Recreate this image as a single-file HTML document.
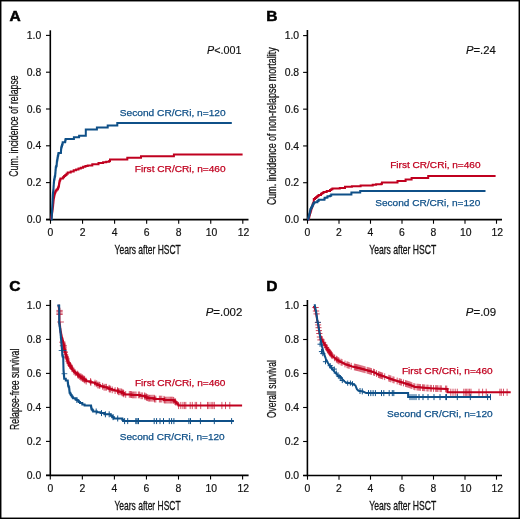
<!DOCTYPE html><html><head><meta charset="utf-8"><style>html,body{margin:0;padding:0;background:#fff;}svg{display:block;will-change:transform;} .t{font-family:"Liberation Sans", sans-serif;font-size:10.4px;fill:#111;stroke:#111;stroke-width:0.18px;}.c{font-family:"Liberation Sans", sans-serif;font-size:13px;fill:#111;stroke:#111;stroke-width:0.3px;}.cy{font-family:"Liberation Sans", sans-serif;font-size:12.7px;fill:#111;stroke:#111;stroke-width:0.25px;}.p{font-family:"Liberation Sans", sans-serif;font-size:10.4px;fill:#111;stroke:#111;stroke-width:0.15px;}.L{font-family:"Liberation Sans", sans-serif;font-size:15.5px;font-weight:bold;fill:#000;stroke:#000;stroke-width:0.55px;}.lb{font-family:"Liberation Sans", sans-serif;font-size:9.8px;stroke-width:0.25px;}</style></head><body>
<svg width="520" height="519" viewBox="0 0 520 519">
<rect x="0" y="0" width="520" height="519" fill="#fff"/>
<text x="9.4" y="20.8" class="L">A</text>
<text x="266.3" y="20.8" class="L">B</text>
<text x="9.2" y="290.7" class="L">C</text>
<text x="266.3" y="290.5" class="L">D</text>
<line x1="50.3" y1="30.3" x2="50.3" y2="220.25" stroke="#000" stroke-width="1.6"/>
<line x1="46.0" y1="219.55" x2="248.5" y2="219.55" stroke="#000" stroke-width="1.7"/>
<line x1="46.0" y1="219.40" x2="50.3" y2="219.40" stroke="#000" stroke-width="1.1"/>
<text x="41.3" y="223.00" text-anchor="end" class="t">0.0</text>
<line x1="46.0" y1="182.60" x2="50.3" y2="182.60" stroke="#000" stroke-width="1.1"/>
<text x="41.3" y="186.20" text-anchor="end" class="t">0.2</text>
<line x1="46.0" y1="145.80" x2="50.3" y2="145.80" stroke="#000" stroke-width="1.1"/>
<text x="41.3" y="149.40" text-anchor="end" class="t">0.4</text>
<line x1="46.0" y1="109.00" x2="50.3" y2="109.00" stroke="#000" stroke-width="1.1"/>
<text x="41.3" y="112.60" text-anchor="end" class="t">0.6</text>
<line x1="46.0" y1="72.20" x2="50.3" y2="72.20" stroke="#000" stroke-width="1.1"/>
<text x="41.3" y="75.80" text-anchor="end" class="t">0.8</text>
<line x1="46.0" y1="35.40" x2="50.3" y2="35.40" stroke="#000" stroke-width="1.1"/>
<text x="41.3" y="39.00" text-anchor="end" class="t">1.0</text>
<line x1="50.50" y1="219.55" x2="50.50" y2="223.75" stroke="#000" stroke-width="1.1"/>
<text x="50.50" y="235.8" text-anchor="middle" class="t">0</text>
<line x1="82.55" y1="219.55" x2="82.55" y2="223.75" stroke="#000" stroke-width="1.1"/>
<text x="82.55" y="235.8" text-anchor="middle" class="t">2</text>
<line x1="114.60" y1="219.55" x2="114.60" y2="223.75" stroke="#000" stroke-width="1.1"/>
<text x="114.60" y="235.8" text-anchor="middle" class="t">4</text>
<line x1="146.65" y1="219.55" x2="146.65" y2="223.75" stroke="#000" stroke-width="1.1"/>
<text x="146.65" y="235.8" text-anchor="middle" class="t">6</text>
<line x1="178.70" y1="219.55" x2="178.70" y2="223.75" stroke="#000" stroke-width="1.1"/>
<text x="178.70" y="235.8" text-anchor="middle" class="t">8</text>
<line x1="210.75" y1="219.55" x2="210.75" y2="223.75" stroke="#000" stroke-width="1.1"/>
<text x="211.45" y="235.8" text-anchor="middle" class="t">10</text>
<line x1="242.80" y1="219.55" x2="242.80" y2="223.75" stroke="#000" stroke-width="1.1"/>
<text x="243.50" y="235.8" text-anchor="middle" class="t">12</text>
<text x="114.6" y="253.9" class="c" textLength="66.2" lengthAdjust="spacingAndGlyphs">Years after HSCT</text>
<text transform="translate(18.3,176.8) rotate(-90)" x="0" y="0" class="cy" textLength="101.5" lengthAdjust="spacingAndGlyphs">Cum. incidence of relapse</text>
<text x="207.0" y="53.8" class="p" textLength="34.4" lengthAdjust="spacingAndGlyphs"><tspan font-style="italic">P</tspan>&lt;.001</text>
<polyline points="51.00,219.40 51.00,218.50 51.20,218.50 51.20,217.32 51.40,217.32 51.40,216.13 51.60,216.13 51.60,214.95 51.80,214.95 51.80,213.77 52.00,213.77 52.00,212.58 52.20,212.58 52.20,211.40 52.36,211.40 52.36,210.20 52.52,210.20 52.52,209.00 52.68,209.00 52.68,207.80 52.84,207.80 52.84,206.60 53.00,206.60 53.00,205.40 53.12,205.40 53.12,204.20 53.23,204.20 53.23,203.00 53.35,203.00 53.35,201.80 53.47,201.80 53.47,200.60 53.58,200.60 53.58,199.40 53.70,199.40 53.70,198.20 53.93,198.20 53.93,197.02 54.15,197.02 54.15,195.85 54.38,195.85 54.38,194.68 54.60,194.68 54.60,193.50 55.00,193.50 55.00,192.50 55.40,192.50 55.40,191.50 55.80,191.50 55.80,190.50 56.70,190.50 56.70,189.60 57.60,189.60 57.60,188.70 58.00,188.70 58.00,187.70 58.40,187.70 58.40,186.70 58.80,186.70 58.80,185.70 59.00,185.70 59.00,184.30 59.20,184.30 59.20,182.90 59.40,182.90 59.40,181.50 59.77,181.50 59.77,180.50 60.13,180.50 60.13,179.50 60.50,179.50 60.50,178.50 62.90,178.50 62.90,177.30 64.10,177.30 64.10,176.10 65.30,176.10 65.30,174.90 66.50,174.90 66.50,173.70 67.70,173.70 67.70,172.50 70.70,172.50 70.70,171.40 73.70,171.40 73.70,170.20 76.10,170.20 76.10,169.40 78.50,169.40 78.50,168.60 80.80,168.60 80.80,167.70 83.10,167.70 83.10,166.80 85.40,166.80 85.40,166.10 87.70,166.10 87.70,165.40 92.30,165.40 92.30,164.30 98.50,164.30 98.50,163.10 103.10,163.10 103.10,162.30 106.20,162.30 106.20,161.70 109.20,161.70 109.20,161.10 110.00,161.10 110.00,159.50 127.30,159.50 127.30,157.70 141.00,157.70 141.00,156.20 173.90,156.20 173.90,154.60 242.60,154.60" fill="none" stroke="#c0001f" stroke-width="2.0" stroke-linejoin="miter" stroke-linecap="butt"/>
<polyline points="51.00,219.40 51.60,219.40 51.60,218.50 51.69,218.50 51.69,216.97 51.77,216.97 51.77,215.44 51.86,215.44 51.86,213.91 51.94,213.91 51.94,212.39 52.03,212.39 52.03,210.86 52.11,210.86 52.11,209.33 52.20,209.33 52.20,207.80 52.27,207.80 52.27,206.33 52.33,206.33 52.33,204.87 52.40,204.87 52.40,203.40 52.47,203.40 52.47,201.93 52.53,201.93 52.53,200.47 52.60,200.47 52.60,199.00 52.67,199.00 52.67,197.53 52.73,197.53 52.73,196.07 52.80,196.07 52.80,194.60 52.95,194.60 52.95,193.12 53.10,193.12 53.10,191.65 53.25,191.65 53.25,190.17 53.40,190.17 53.40,188.70 53.50,188.70 53.50,187.30 53.60,187.30 53.60,185.90 53.70,185.90 53.70,184.50 53.80,184.50 53.80,183.10 53.90,183.10 53.90,181.70 54.00,181.70 54.00,180.30 54.30,180.30 54.30,178.80 54.60,178.80 54.60,177.30 54.90,177.30 54.90,175.80 55.20,175.80 55.20,174.30 55.32,174.30 55.32,172.88 55.44,172.88 55.44,171.46 55.56,171.46 55.56,170.04 55.68,170.04 55.68,168.62 55.80,168.62 55.80,167.20 56.20,167.20 56.20,166.10 56.60,166.10 56.60,165.00 56.70,165.00 56.70,163.73 56.80,163.73 56.80,162.47 56.90,162.47 56.90,161.20 57.17,161.20 57.17,159.67 57.43,159.67 57.43,158.13 57.70,158.13 57.70,156.60 57.97,156.60 57.97,155.43 58.23,155.43 58.23,154.27 58.50,154.27 58.50,153.10 60.80,153.10 60.90,153.10 60.90,151.68 61.00,151.68 61.00,150.25 61.10,150.25 61.10,148.82 61.20,148.82 61.20,147.40 61.60,147.40 61.60,146.20 62.00,146.20 62.00,145.00 62.35,145.00 62.35,143.65 62.70,143.65 62.70,142.30 65.00,142.30 65.00,142.00 65.20,142.00 65.20,140.80 65.40,140.80 65.40,139.60 65.80,139.60 65.80,139.00 73.90,139.00 73.90,137.30 79.10,137.30 79.10,135.80 85.80,135.80 85.80,129.60 96.90,129.60 96.90,127.50 107.70,127.50 107.70,125.40 117.30,125.40 117.30,122.90 231.80,122.90" fill="none" stroke="#0f5088" stroke-width="2.0" stroke-linejoin="miter" stroke-linecap="butt"/>
<text x="119.8" y="115.6" class="lb" fill="#0f5088" stroke="#0f5088" textLength="105.8" lengthAdjust="spacingAndGlyphs">Second CR/CRi, n=120</text>
<text x="134.8" y="171.5" class="lb" fill="#c0001f" stroke="#c0001f" textLength="90.8" lengthAdjust="spacingAndGlyphs">First CR/CRi, n=460</text>
<line x1="307.4" y1="30.0" x2="307.4" y2="220.25" stroke="#000" stroke-width="1.6"/>
<line x1="303.1" y1="219.55" x2="502.0" y2="219.55" stroke="#000" stroke-width="1.7"/>
<line x1="303.1" y1="219.50" x2="307.4" y2="219.50" stroke="#000" stroke-width="1.1"/>
<text x="299.1" y="223.10" text-anchor="end" class="t">0.0</text>
<line x1="303.1" y1="182.72" x2="307.4" y2="182.72" stroke="#000" stroke-width="1.1"/>
<text x="299.1" y="186.32" text-anchor="end" class="t">0.2</text>
<line x1="303.1" y1="145.94" x2="307.4" y2="145.94" stroke="#000" stroke-width="1.1"/>
<text x="299.1" y="149.54" text-anchor="end" class="t">0.4</text>
<line x1="303.1" y1="109.16" x2="307.4" y2="109.16" stroke="#000" stroke-width="1.1"/>
<text x="299.1" y="112.76" text-anchor="end" class="t">0.6</text>
<line x1="303.1" y1="72.38" x2="307.4" y2="72.38" stroke="#000" stroke-width="1.1"/>
<text x="299.1" y="75.98" text-anchor="end" class="t">0.8</text>
<line x1="303.1" y1="35.60" x2="307.4" y2="35.60" stroke="#000" stroke-width="1.1"/>
<text x="299.1" y="39.20" text-anchor="end" class="t">1.0</text>
<line x1="307.50" y1="219.55" x2="307.50" y2="223.75" stroke="#000" stroke-width="1.1"/>
<text x="307.50" y="235.8" text-anchor="middle" class="t">0</text>
<line x1="339.00" y1="219.55" x2="339.00" y2="223.75" stroke="#000" stroke-width="1.1"/>
<text x="339.00" y="235.8" text-anchor="middle" class="t">2</text>
<line x1="370.50" y1="219.55" x2="370.50" y2="223.75" stroke="#000" stroke-width="1.1"/>
<text x="370.50" y="235.8" text-anchor="middle" class="t">4</text>
<line x1="402.00" y1="219.55" x2="402.00" y2="223.75" stroke="#000" stroke-width="1.1"/>
<text x="402.00" y="235.8" text-anchor="middle" class="t">6</text>
<line x1="433.50" y1="219.55" x2="433.50" y2="223.75" stroke="#000" stroke-width="1.1"/>
<text x="433.50" y="235.8" text-anchor="middle" class="t">8</text>
<line x1="465.00" y1="219.55" x2="465.00" y2="223.75" stroke="#000" stroke-width="1.1"/>
<text x="465.70" y="235.8" text-anchor="middle" class="t">10</text>
<line x1="496.50" y1="219.55" x2="496.50" y2="223.75" stroke="#000" stroke-width="1.1"/>
<text x="497.20" y="235.8" text-anchor="middle" class="t">12</text>
<text x="369.2" y="253.6" class="c" textLength="67.1" lengthAdjust="spacingAndGlyphs">Years after HSCT</text>
<text transform="translate(275.6,205.1) rotate(-90)" x="0" y="0" class="cy" textLength="157.8" lengthAdjust="spacingAndGlyphs">Cum. incidence of non-relapse mortality</text>
<text x="466.0" y="53.7" class="p" textLength="29.8" lengthAdjust="spacingAndGlyphs"><tspan font-style="italic">P</tspan>=.24</text>
<polyline points="308.10,219.50 308.50,219.50 308.50,218.90 308.80,218.90 308.80,217.72 309.10,217.72 309.10,216.54 309.40,216.54 309.40,215.36 309.70,215.36 309.70,214.18 310.00,214.18 310.00,213.00 310.38,213.00 310.38,211.75 310.75,211.75 310.75,210.50 311.12,210.50 311.12,209.25 311.50,209.25 311.50,208.00 311.88,208.00 311.88,206.88 312.25,206.88 312.25,205.75 312.62,205.75 312.62,204.62 313.00,204.62 313.00,203.50 313.40,203.50 313.40,202.70 313.80,202.70 313.80,201.90 313.80,199.00 315.00,199.00 315.00,198.00 316.20,198.00 316.20,197.00 317.40,197.00 317.40,196.00 318.60,196.00 318.60,195.00 321.00,195.00 321.00,193.80 322.25,193.80 322.25,192.95 323.50,192.95 323.50,192.10 326.70,192.10 326.70,190.90 330.00,190.90 330.00,190.10 331.20,190.10 331.20,189.30 332.40,189.30 332.40,188.50 339.80,188.50 339.80,188.00 345.00,188.00 345.00,186.80 351.90,186.80 351.90,186.30 360.60,186.30 360.60,185.60 369.20,185.60 372.70,185.60 372.70,184.70 376.10,184.70 376.10,184.20 381.30,184.20 381.30,183.80 382.00,183.80 382.00,182.50 397.50,182.50 397.50,181.00 405.60,181.00 405.60,179.50 411.60,179.50 411.60,178.00 428.20,178.00 428.20,176.00 495.60,176.00" fill="none" stroke="#c0001f" stroke-width="2.0" stroke-linejoin="miter" stroke-linecap="butt"/>
<polyline points="307.80,219.50 308.10,219.50 308.10,218.90 308.40,218.90 308.40,217.68 308.70,217.68 308.70,216.45 309.00,216.45 309.00,215.22 309.30,215.22 309.30,214.00 309.60,214.00 309.60,212.78 309.90,212.78 309.90,211.55 310.20,211.55 310.20,210.32 310.50,210.32 310.50,209.10 311.03,209.10 311.03,208.03 311.57,208.03 311.57,206.97 312.10,206.97 312.10,205.90 312.67,205.90 312.67,204.83 313.23,204.83 313.23,203.77 313.80,203.77 313.80,202.70 314.60,202.70 314.60,202.30 317.00,202.30 317.40,202.30 317.40,201.00 318.60,201.00 318.60,199.80 324.30,199.80 324.30,199.40 324.50,199.40 324.50,198.60 324.70,198.60 324.70,197.80 326.70,197.80 326.70,197.40 327.50,197.40 327.50,196.20 330.00,196.20 330.00,195.80 331.20,195.80 331.20,194.60 351.40,194.60 351.40,192.60 360.20,192.60 360.20,190.90 485.50,190.90" fill="none" stroke="#0f5088" stroke-width="2.0" stroke-linejoin="miter" stroke-linecap="butt"/>
<text x="390.2" y="168.0" class="lb" fill="#c0001f" stroke="#c0001f" textLength="90.3" lengthAdjust="spacingAndGlyphs">First CR/CRi, n=460</text>
<text x="375.2" y="205.9" class="lb" fill="#0f5088" stroke="#0f5088" textLength="105.1" lengthAdjust="spacingAndGlyphs">Second CR/CRi, n=120</text>
<line x1="50.3" y1="300.0" x2="50.3" y2="476.09999999999997" stroke="#000" stroke-width="1.6"/>
<line x1="46.0" y1="475.4" x2="248.6" y2="475.4" stroke="#000" stroke-width="1.7"/>
<line x1="46.0" y1="475.40" x2="50.3" y2="475.40" stroke="#000" stroke-width="1.1"/>
<text x="41.3" y="479.00" text-anchor="end" class="t">0.0</text>
<line x1="46.0" y1="441.40" x2="50.3" y2="441.40" stroke="#000" stroke-width="1.1"/>
<text x="41.3" y="445.00" text-anchor="end" class="t">0.2</text>
<line x1="46.0" y1="407.40" x2="50.3" y2="407.40" stroke="#000" stroke-width="1.1"/>
<text x="41.3" y="411.00" text-anchor="end" class="t">0.4</text>
<line x1="46.0" y1="373.40" x2="50.3" y2="373.40" stroke="#000" stroke-width="1.1"/>
<text x="41.3" y="377.00" text-anchor="end" class="t">0.6</text>
<line x1="46.0" y1="339.40" x2="50.3" y2="339.40" stroke="#000" stroke-width="1.1"/>
<text x="41.3" y="343.00" text-anchor="end" class="t">0.8</text>
<line x1="46.0" y1="305.40" x2="50.3" y2="305.40" stroke="#000" stroke-width="1.1"/>
<text x="41.3" y="309.00" text-anchor="end" class="t">1.0</text>
<line x1="50.30" y1="475.4" x2="50.30" y2="479.59999999999997" stroke="#000" stroke-width="1.1"/>
<text x="50.30" y="491.6" text-anchor="middle" class="t">0</text>
<line x1="82.35" y1="475.4" x2="82.35" y2="479.59999999999997" stroke="#000" stroke-width="1.1"/>
<text x="82.35" y="491.6" text-anchor="middle" class="t">2</text>
<line x1="114.40" y1="475.4" x2="114.40" y2="479.59999999999997" stroke="#000" stroke-width="1.1"/>
<text x="114.40" y="491.6" text-anchor="middle" class="t">4</text>
<line x1="146.45" y1="475.4" x2="146.45" y2="479.59999999999997" stroke="#000" stroke-width="1.1"/>
<text x="146.45" y="491.6" text-anchor="middle" class="t">6</text>
<line x1="178.50" y1="475.4" x2="178.50" y2="479.59999999999997" stroke="#000" stroke-width="1.1"/>
<text x="178.50" y="491.6" text-anchor="middle" class="t">8</text>
<line x1="210.55" y1="475.4" x2="210.55" y2="479.59999999999997" stroke="#000" stroke-width="1.1"/>
<text x="211.25" y="491.6" text-anchor="middle" class="t">10</text>
<line x1="242.60" y1="475.4" x2="242.60" y2="479.59999999999997" stroke="#000" stroke-width="1.1"/>
<text x="243.30" y="491.6" text-anchor="middle" class="t">12</text>
<text x="114.5" y="510.2" class="c" textLength="66.1" lengthAdjust="spacingAndGlyphs">Years after HSCT</text>
<text transform="translate(18.5,429.9) rotate(-90)" x="0" y="0" class="cy" textLength="81.2" lengthAdjust="spacingAndGlyphs">Relapse-free survival</text>
<text x="205.7" y="316.0" class="p" textLength="36.6" lengthAdjust="spacingAndGlyphs"><tspan font-style="italic">P</tspan>=.002</text>
<polyline points="58.50,305.60 58.70,305.60 58.70,306.70 58.90,306.70 58.90,307.80 59.10,307.80 59.10,308.90 59.30,308.90 59.30,310.00 59.32,310.00 59.32,311.30 59.34,311.30 59.34,312.60 59.36,312.60 59.36,313.90 59.38,313.90 59.38,315.20 59.40,315.20 59.40,316.50 59.42,316.50 59.42,317.80 59.44,317.80 59.44,319.10 59.46,319.10 59.46,320.40 59.48,320.40 59.48,321.70 59.50,321.70 59.50,323.00 59.66,323.00 59.66,324.29 59.81,324.29 59.81,325.57 59.97,325.57 59.97,326.86 60.13,326.86 60.13,328.14 60.29,328.14 60.29,329.43 60.44,329.43 60.44,330.71 60.60,330.71 60.60,332.00 60.84,332.00 60.84,333.20 61.08,333.20 61.08,334.40 61.32,334.40 61.32,335.60 61.56,335.60 61.56,336.80 61.80,336.80 61.80,338.00 62.20,338.00 62.20,339.33 62.60,339.33 62.60,340.67 63.00,340.67 63.00,342.00 63.26,342.00 63.26,343.40 63.52,343.40 63.52,344.80 63.78,344.80 63.78,346.20 64.04,346.20 64.04,347.60 64.30,347.60 64.30,349.00 64.60,349.00 64.60,350.20 64.90,350.20 64.90,351.40 65.20,351.40 65.20,352.60 65.50,352.60 65.50,353.80 65.80,353.80 65.80,355.00 66.18,355.00 66.18,356.28 66.57,356.28 66.57,357.57 66.95,357.57 66.95,358.85 67.33,358.85 67.33,360.13 67.72,360.13 67.72,361.42 68.10,361.42 68.10,362.70 68.87,362.70 68.87,363.98 69.63,363.98 69.63,365.27 70.40,365.27 70.40,366.55 71.17,366.55 71.17,367.83 71.93,367.83 71.93,369.12 72.70,369.12 72.70,370.40 74.00,370.40 74.00,371.64 75.30,371.64 75.30,372.88 76.60,372.88 76.60,374.12 77.90,374.12 77.90,375.36 79.20,375.36 79.20,376.60 80.95,376.60 80.95,377.75 82.70,377.75 82.70,378.90 84.45,378.90 84.45,380.05 86.20,380.05 86.20,381.20 90.60,381.20 90.60,382.50 95.00,382.50 95.00,383.80 97.40,383.80 97.40,385.05 99.80,385.05 99.80,386.30 103.65,386.30 103.65,387.25 107.50,387.25 107.50,388.20 109.40,388.20 109.40,389.10 111.80,389.10 111.80,389.85 114.20,389.85 114.20,390.60 118.05,390.60 118.05,391.80 121.90,391.80 121.90,393.00 123.80,393.00 123.80,394.40 131.50,394.40 131.50,394.90 140.00,394.90 140.00,395.80 144.80,395.80 144.80,396.70 146.25,396.70 146.25,397.45 147.70,397.45 147.70,398.20 154.40,398.20 154.40,399.10 164.00,399.10 164.00,400.10 173.70,400.10 173.70,400.60 174.65,400.60 174.65,401.55 175.60,401.55 175.60,402.50 176.55,402.50 176.55,403.45 177.50,403.45 177.50,404.40 178.50,404.40 178.50,405.50 242.10,405.50" fill="none" stroke="#c0001f" stroke-width="2.0" stroke-linejoin="miter" stroke-linecap="butt"/>
<path d="M63.52 340.38V347.18M61.12 343.78H65.92 M63.70 341.40V348.20M61.30 344.80H66.10 M63.78 342.52V349.32M61.38 345.92H66.18 M64.04 343.46V350.26M61.64 346.86H66.44 M64.30 344.40V351.20M61.90 347.80H66.70 M64.30 345.60V352.40M61.90 349.00H66.70 M64.60 346.50V353.30M62.20 349.90H67.00 M65.20 348.30V355.10M62.80 351.70H67.60 M65.50 349.20V356.00M63.10 352.60H67.90 M65.80 351.30V358.10M63.40 354.70H68.20 M66.57 352.93V359.73M64.17 356.33H68.97 M66.57 354.13V360.93M64.17 357.53H68.97 M66.95 354.95V361.75M64.55 358.35H69.35 M67.33 355.77V362.57M64.93 359.17H69.73 M67.72 357.78V364.58M65.32 361.18H70.12 M68.60 359.30V366.10M66.20 362.70H71.00 M68.87 360.23V367.03M66.47 363.63H71.27 M69.63 361.87V368.67M67.23 365.27H72.03 M70.40 362.30V369.10M68.00 365.70H72.80 M70.75 363.15V369.95M68.35 366.55H73.15 M71.87 364.43V371.23M69.47 367.83H74.27 M74.06 368.24V375.04M71.66 371.64H76.46 M75.30 369.40V376.20M72.90 372.80H77.70 M77.58 370.72V377.52M75.18 374.12H79.98 M77.90 371.60V378.40M75.50 375.00H80.30 M78.74 371.96V378.76M76.34 375.36H81.14 M79.90 373.20V380.00M77.50 376.60H82.30 M80.95 373.35V380.15M78.55 376.75H83.35 M81.15 374.35V381.15M78.75 377.75H83.55 M82.35 374.35V381.15M79.95 377.75H84.75 M82.70 375.20V382.00M80.30 378.60H85.10 M83.60 375.50V382.30M81.20 378.90H86.00 M84.45 375.85V382.65M82.05 379.25H86.85 M84.85 376.65V383.45M82.45 380.05H87.25 M86.20 377.70V384.50M83.80 381.10H88.60 M90.60 378.10V384.90M88.20 381.50H93.00 M90.80 379.10V385.90M88.40 382.50H93.20 M95.00 379.70V386.50M92.60 383.10H97.40 M96.70 380.40V387.20M94.30 383.80H99.10 M97.85 381.65V388.45M95.45 385.05H100.25 M99.05 381.65V388.45M96.65 385.05H101.45 M99.80 382.10V388.90M97.40 385.50H102.20 M102.60 382.90V389.70M100.20 386.30H105.00 M104.05 383.85V390.65M101.65 387.25H106.45 M105.25 383.85V390.65M102.85 387.25H107.65 M106.45 383.85V390.65M104.05 387.25H108.85 M109.10 384.80V391.60M106.70 388.20H111.50 M109.40 385.70V392.50M107.00 389.10H111.80 M110.60 385.70V392.50M108.20 389.10H113.00 M112.25 386.45V393.25M109.85 389.85H114.65 M115.10 387.20V394.00M112.70 390.60H117.50 M117.50 387.20V394.00M115.10 390.60H119.90 M118.05 387.85V394.65M115.65 391.25H120.45 M118.70 388.40V395.20M116.30 391.80H121.10 M119.90 388.40V395.20M117.50 391.80H122.30 M121.10 388.40V395.20M118.70 391.80H123.50 M121.90 388.80V395.60M119.50 392.20H124.30 M122.30 389.60V396.40M119.90 393.00H124.70 M123.50 389.60V396.40M121.10 393.00H125.90 M123.80 390.50V397.30M121.40 393.90H126.20 M125.70 391.00V397.80M123.30 394.40H128.10 M129.30 391.00V397.80M126.90 394.40H131.70 M130.50 391.00V397.80M128.10 394.40H132.90 M131.50 391.20V398.00M129.10 394.60H133.90 M132.40 391.50V398.30M130.00 394.90H134.80 M133.60 391.50V398.30M131.20 394.90H136.00 M134.80 391.50V398.30M132.40 394.90H137.20 M136.00 391.50V398.30M133.60 394.90H138.40 M138.40 391.50V398.30M136.00 394.90H140.80 M139.60 391.50V398.30M137.20 394.90H142.00 M141.10 392.40V399.20M138.70 395.80H143.50 M142.30 392.40V399.20M139.90 395.80H144.70 M144.70 392.40V399.20M142.30 395.80H147.10 M145.00 393.30V400.10M142.60 396.70H147.40 M146.20 393.30V400.10M143.80 396.70H148.60 M146.65 394.05V400.85M144.25 397.45H149.05 M147.70 394.20V401.00M145.30 397.60H150.10 M148.30 394.80V401.60M145.90 398.20H150.70 M149.50 394.80V401.60M147.10 398.20H151.90 M150.70 394.80V401.60M148.30 398.20H153.10 M151.90 394.80V401.60M149.50 398.20H154.30 M153.10 394.80V401.60M150.70 398.20H155.50 M154.30 394.80V401.60M151.90 398.20H156.70 M154.60 395.70V402.50M152.20 399.10H157.00 M155.80 395.70V402.50M153.40 399.10H158.20 M159.40 395.70V402.50M157.00 399.10H161.80 M160.60 395.70V402.50M158.20 399.10H163.00 M161.80 395.70V402.50M159.40 399.10H164.20 M164.00 395.90V402.70M161.60 399.30H166.40 M164.40 396.70V403.50M162.00 400.10H166.80 M165.60 396.70V403.50M163.20 400.10H168.00 M166.80 396.70V403.50M164.40 400.10H169.20 M168.00 396.70V403.50M165.60 400.10H170.40 M169.20 396.70V403.50M166.80 400.10H171.60 M170.40 396.70V403.50M168.00 400.10H172.80 M171.60 396.70V403.50M169.20 400.10H174.00 M172.80 396.70V403.50M170.40 400.10H175.20 M173.70 397.00V403.80M171.30 400.40H176.10 M174.95 398.15V404.95M172.55 401.55H177.35 M175.60 398.70V405.50M173.20 402.10H178.00" stroke="#c0001f" stroke-width="0.85" fill="none" opacity="0.8"/>
<path d="M178.60 401.90V409.10M178.50 405.50H178.70 M180.80 401.90V409.10M180.70 405.50H180.90 M182.90 401.90V409.10M182.80 405.50H183.00 M184.40 401.90V409.10M184.30 405.50H184.50 M185.80 401.90V409.10M185.70 405.50H185.90 M190.20 401.90V409.10M190.10 405.50H190.30 M192.30 401.90V409.10M192.20 405.50H192.40 M195.20 401.90V409.10M195.10 405.50H195.30 M196.60 401.90V409.10M196.50 405.50H196.70 M200.70 401.90V409.10M200.60 405.50H200.80 M207.50 401.90V409.10M207.40 405.50H207.60 M208.90 401.90V409.10M208.80 405.50H209.00 M211.10 401.90V409.10M211.00 405.50H211.20 M212.80 401.90V409.10M212.70 405.50H212.90 M214.30 401.90V409.10M214.20 405.50H214.40 M221.90 401.90V409.10M221.80 405.50H222.00 M225.50 401.90V409.10M225.40 405.50H225.60 M229.80 401.90V409.10M229.70 405.50H229.90" stroke="#c0001f" stroke-width="0.85" fill="none" opacity="0.8"/>
<path d="M56.4 310.4H62.7M56.4 311.7H62.7M56.4 313.2H62.7M56.4 314.5H62.7M57.2 322H63.9M59.2 342.2H65.6M59.8 345.7H66.8" stroke="#c0001f" stroke-width="0.9" opacity="0.75"/>
<polyline points="57.30,305.40 59.20,305.40 59.20,305.60 59.20,323.00 59.40,323.00 59.40,324.50 59.60,324.50 59.60,326.00 59.80,326.00 59.80,327.50 60.00,327.50 60.00,329.00 60.20,329.00 60.20,330.50 60.40,330.50 60.40,332.00 60.53,332.00 60.53,333.56 60.67,333.56 60.67,335.11 60.80,335.11 60.80,336.67 60.93,336.67 60.93,338.22 61.07,338.22 61.07,339.78 61.20,339.78 61.20,341.33 61.33,341.33 61.33,342.89 61.47,342.89 61.47,344.44 61.60,344.44 61.60,346.00 61.73,346.00 61.73,347.25 61.85,347.25 61.85,348.50 61.98,348.50 61.98,349.75 62.10,349.75 62.10,351.00 62.17,351.00 62.17,352.50 62.23,352.50 62.23,354.00 62.30,354.00 62.30,355.50 62.75,355.50 62.75,356.65 63.20,356.65 63.20,357.80 63.24,357.80 63.24,359.38 63.28,359.38 63.28,360.95 63.31,360.95 63.31,362.52 63.35,362.52 63.35,364.10 63.39,364.10 63.39,365.68 63.42,365.68 63.42,367.25 63.46,367.25 63.46,368.82 63.50,368.82 63.50,370.40 63.62,370.40 63.62,371.80 63.73,371.80 63.73,373.20 63.85,373.20 63.85,374.60 63.97,374.60 63.97,376.00 64.08,376.00 64.08,377.40 64.20,377.40 64.20,378.80 65.80,378.80 65.80,380.40 67.70,380.40 67.70,381.50 67.83,381.50 67.83,382.93 67.97,382.93 67.97,384.37 68.10,384.37 68.10,385.80 68.65,385.80 68.65,387.35 69.20,387.35 69.20,388.90 69.33,388.90 69.33,390.17 69.47,390.17 69.47,391.43 69.60,391.43 69.60,392.70 70.20,392.70 70.20,393.85 70.80,393.85 70.80,395.00 71.60,395.00 71.60,396.20 72.35,396.20 72.35,397.25 73.10,397.25 73.10,398.30 75.40,398.30 75.40,399.20 76.55,399.20 76.55,400.00 77.70,400.00 77.70,400.80 78.85,400.80 78.85,401.95 80.00,401.95 80.00,403.10 82.30,403.10 82.30,404.60 84.60,404.60 84.60,405.40 90.80,405.40 91.03,405.40 91.03,406.67 91.27,406.67 91.27,407.93 91.50,407.93 91.50,409.20 92.30,409.20 92.30,410.35 93.10,410.35 93.10,411.50 96.90,411.50 96.90,412.30 100.80,412.30 100.80,413.10 104.60,413.10 104.60,414.30 110.80,414.30 110.80,415.80 112.30,415.80 112.30,417.15 113.80,417.15 113.80,418.50 121.50,418.50 122.30,418.50 122.30,419.80 123.10,419.80 123.10,421.10 233.90,421.10" fill="none" stroke="#0f5088" stroke-width="2.0" stroke-linejoin="miter" stroke-linecap="butt"/>
<path d="M76.90 397.00V403.00M74.90 400.00H78.90 M96.20 408.50V414.50M94.20 411.50H98.20 M101.50 410.10V416.10M99.50 413.10H103.50 M105.40 411.30V417.30M103.40 414.30H107.40 M109.20 411.30V417.30M107.20 414.30H111.20 M113.10 414.15V420.15M111.10 417.15H115.10 M117.70 415.50V421.50M115.70 418.50H119.70 M124.60 418.10V424.10M122.60 421.10H126.60 M127.70 418.10V424.10M125.70 421.10H129.70 M135.80 418.10V424.10M133.80 421.10H137.80 M136.90 418.10V424.10M134.90 421.10H138.90 M138.10 418.10V424.10M136.10 421.10H140.10 M138.50 418.10V424.10M136.50 421.10H140.50 M154.20 418.10V424.10M152.20 421.10H156.20 M156.60 418.10V424.10M154.60 421.10H158.60 M160.00 418.10V424.10M158.00 421.10H162.00 M163.50 418.10V424.10M161.50 421.10H165.50 M169.30 418.10V424.10M167.30 421.10H171.30 M171.60 418.10V424.10M169.60 421.10H173.60 M173.90 418.10V424.10M171.90 421.10H175.90 M188.90 418.10V424.10M186.90 421.10H190.90 M190.50 418.10V424.10M188.50 421.10H192.50 M200.40 418.10V424.10M198.40 421.10H202.40 M214.30 418.10V424.10M212.30 421.10H216.30 M231.60 418.10V424.10M229.60 421.10H233.60" stroke="#0f5088" stroke-width="1.0" fill="none" opacity="1.0"/>
<path d="M58.7 350.5H66.5M61.5 373.7H67.3" stroke="#0f5088" stroke-width="1" opacity="0.8"/>
<text x="134.9" y="385.8" class="lb" fill="#c0001f" stroke="#c0001f" textLength="90.6" lengthAdjust="spacingAndGlyphs">First CR/CRi, n=460</text>
<text x="119.8" y="439.8" class="lb" fill="#0f5088" stroke="#0f5088" textLength="104.9" lengthAdjust="spacingAndGlyphs">Second CR/CRi, n=120</text>
<line x1="307.4" y1="300.0" x2="307.4" y2="476.2" stroke="#000" stroke-width="1.6"/>
<line x1="303.1" y1="475.5" x2="502.0" y2="475.5" stroke="#000" stroke-width="1.7"/>
<line x1="303.1" y1="475.50" x2="307.4" y2="475.50" stroke="#000" stroke-width="1.1"/>
<text x="299.1" y="479.10" text-anchor="end" class="t">0.0</text>
<line x1="303.1" y1="441.50" x2="307.4" y2="441.50" stroke="#000" stroke-width="1.1"/>
<text x="299.1" y="445.10" text-anchor="end" class="t">0.2</text>
<line x1="303.1" y1="407.50" x2="307.4" y2="407.50" stroke="#000" stroke-width="1.1"/>
<text x="299.1" y="411.10" text-anchor="end" class="t">0.4</text>
<line x1="303.1" y1="373.50" x2="307.4" y2="373.50" stroke="#000" stroke-width="1.1"/>
<text x="299.1" y="377.10" text-anchor="end" class="t">0.6</text>
<line x1="303.1" y1="339.50" x2="307.4" y2="339.50" stroke="#000" stroke-width="1.1"/>
<text x="299.1" y="343.10" text-anchor="end" class="t">0.8</text>
<line x1="303.1" y1="305.50" x2="307.4" y2="305.50" stroke="#000" stroke-width="1.1"/>
<text x="299.1" y="309.10" text-anchor="end" class="t">1.0</text>
<line x1="307.50" y1="475.5" x2="307.50" y2="479.7" stroke="#000" stroke-width="1.1"/>
<text x="307.50" y="491.6" text-anchor="middle" class="t">0</text>
<line x1="339.00" y1="475.5" x2="339.00" y2="479.7" stroke="#000" stroke-width="1.1"/>
<text x="339.00" y="491.6" text-anchor="middle" class="t">2</text>
<line x1="370.50" y1="475.5" x2="370.50" y2="479.7" stroke="#000" stroke-width="1.1"/>
<text x="370.50" y="491.6" text-anchor="middle" class="t">4</text>
<line x1="402.00" y1="475.5" x2="402.00" y2="479.7" stroke="#000" stroke-width="1.1"/>
<text x="402.00" y="491.6" text-anchor="middle" class="t">6</text>
<line x1="433.50" y1="475.5" x2="433.50" y2="479.7" stroke="#000" stroke-width="1.1"/>
<text x="433.50" y="491.6" text-anchor="middle" class="t">8</text>
<line x1="465.00" y1="475.5" x2="465.00" y2="479.7" stroke="#000" stroke-width="1.1"/>
<text x="465.70" y="491.6" text-anchor="middle" class="t">10</text>
<line x1="496.50" y1="475.5" x2="496.50" y2="479.7" stroke="#000" stroke-width="1.1"/>
<text x="497.20" y="491.6" text-anchor="middle" class="t">12</text>
<text x="369.2" y="510.2" class="c" textLength="67.1" lengthAdjust="spacingAndGlyphs">Years after HSCT</text>
<text transform="translate(275.6,418.0) rotate(-90)" x="0" y="0" class="cy" textLength="57.9" lengthAdjust="spacingAndGlyphs">Overall survival</text>
<text x="465.8" y="315.9" class="p" textLength="30.3" lengthAdjust="spacingAndGlyphs"><tspan font-style="italic">P</tspan>=.09</text>
<polyline points="313.80,306.00 315.80,311.60 317.20,320.00 318.30,325.40 319.50,333.20 320.60,337.50 322.50,340.80 323.80,342.90 327.70,349.60 332.50,356.30 339.20,361.20 345.00,364.00 351.70,366.40 358.50,367.90 365.20,369.80 369.00,370.80 374.30,372.40 378.50,374.60 386.20,377.20 393.80,380.00 401.50,382.30 409.20,384.60 415.00,386.90 422.00,387.60 430.40,388.30 447.50,389.00 447.50,392.30 510.70,392.30" fill="none" stroke="#c0001f" stroke-width="2.0" stroke-linejoin="miter" stroke-linecap="butt"/>
<path d="M321.50 335.66V342.46M318.90 339.06H324.10 M322.05 336.61V343.41M319.45 340.01H324.65 M323.76 339.43V346.23M321.16 342.83H326.36 M324.87 341.33V348.13M322.27 344.73H327.47 M325.42 342.28V349.08M322.82 345.68H328.02 M326.53 344.18V350.98M323.93 347.58H329.13 M327.63 346.08V352.88M325.03 349.48H330.23 M328.26 346.99V353.79M325.66 350.39H330.86 M328.90 347.88V354.68M326.30 351.28H331.50 M329.54 348.77V355.57M326.94 352.17H332.14 M330.18 349.67V356.47M327.58 353.07H332.78 M330.83 350.56V357.36M328.23 353.96H333.43 M331.47 351.46V358.26M328.87 354.86H334.07 M332.11 352.35V359.15M329.51 355.75H334.71 M334.62 354.45V361.25M332.02 357.85H337.22 M336.39 355.75V362.55M333.79 359.15H338.99 M337.28 356.40V363.20M334.68 359.80H339.88 M338.17 357.05V363.85M335.57 360.45H340.77 M339.06 357.70V364.50M336.46 361.10H341.66 M341.02 358.68V365.48M338.42 362.08H343.62 M342.01 359.16V365.96M339.41 362.56H344.61 M344.99 360.59V367.39M342.39 363.99H347.59 M347.06 361.34V368.14M344.46 364.74H349.66 M348.09 361.71V368.51M345.49 365.11H350.69 M349.13 362.08V368.88M346.53 365.48H351.73 M351.20 362.82V369.62M348.60 366.22H353.80 M354.40 363.60V370.40M351.80 367.00H357.00 M355.48 363.83V370.63M352.88 367.23H358.08 M356.55 364.07V370.87M353.95 367.47H359.15 M357.62 364.31V371.11M355.02 367.71H360.22 M358.70 364.56V371.36M356.10 367.96H361.30 M359.75 364.86V371.66M357.15 368.26H362.35 M360.81 365.16V371.96M358.21 368.56H363.41 M361.87 365.46V372.26M359.27 368.86H364.47 M362.93 365.76V372.56M360.33 369.16H365.53 M363.99 366.06V372.86M361.39 369.46H366.59 M365.04 366.36V373.16M362.44 369.76H367.64 M367.17 366.92V373.72M364.57 370.32H369.77 M368.24 367.20V374.00M365.64 370.60H370.84 M369.30 367.49V374.29M366.70 370.89H371.90 M370.35 367.81V374.61M367.75 371.21H372.95 M371.40 368.13V374.93M368.80 371.53H374.00 M373.51 368.76V375.56M370.91 372.16H376.11 M374.54 369.13V375.93M371.94 372.53H377.14 M376.49 370.15V376.95M373.89 373.55H379.09 M378.44 371.17V377.97M375.84 374.57H381.04 M379.48 371.53V378.33M376.88 374.93H382.08 M380.52 371.88V378.68M377.92 375.28H383.12 M381.56 372.23V379.03M378.96 375.63H384.16 M382.60 372.59V379.39M380.00 375.99H385.20 M384.69 373.29V380.09M382.09 376.69H387.29 M388.83 374.77V381.57M386.23 378.17H391.43 M389.86 375.15V381.95M387.26 378.55H392.46 M390.90 375.53V382.33M388.30 378.93H393.50 M392.96 376.29V383.09M390.36 379.69H395.56 M394.00 376.66V383.46M391.40 380.06H396.60 M397.16 377.60V384.40M394.56 381.00H399.76 M399.27 378.23V385.03M396.67 381.63H401.87 M400.32 378.55V385.35M397.72 381.95H402.92 M401.37 378.86V385.66M398.77 382.26H403.97 M403.48 379.49V386.29M400.88 382.89H406.08 M405.59 380.12V386.92M402.99 383.52H408.19 M406.64 380.44V387.24M404.04 383.84H409.24 M407.70 380.75V387.55M405.10 384.15H410.30 M408.75 381.07V387.87M406.15 384.47H411.35 M409.79 381.43V388.23M407.19 384.83H412.39 M410.81 381.84V388.64M408.21 385.24H413.41 M411.83 382.24V389.04M409.23 385.64H414.43 M413.88 383.06V389.86M411.28 386.46H416.48 M414.90 383.46V390.26M412.30 386.86H417.50 M417.08 383.71V390.51M414.48 387.11H419.68 M418.18 383.82V390.62M415.58 387.22H420.78 M419.27 383.93V390.73M416.67 387.33H421.87 M420.37 384.04V390.84M417.77 387.44H422.97 M422.56 384.25V391.05M419.96 387.65H425.16 M423.65 384.34V391.14M421.05 387.74H426.25 M424.75 384.43V391.23M422.15 387.83H427.35 M426.94 384.61V391.41M424.34 388.01H429.54 M428.04 384.70V391.50M425.44 388.10H430.64 M430.23 384.89V391.69M427.63 388.29H432.83 M431.33 384.94V391.74M428.73 388.34H433.93 M433.53 385.03V391.83M430.93 388.43H436.13 M435.73 385.12V391.92M433.13 388.52H438.33 M436.82 385.16V391.96M434.22 388.56H439.42 M437.92 385.21V392.01M435.32 388.61H440.52 M440.12 385.30V392.10M437.52 388.70H442.72 M441.22 385.34V392.14M438.62 388.74H443.82 M445.62 385.52V392.32M443.02 388.92H448.22 M446.72 385.57V392.37M444.12 388.97H449.32" stroke="#c0001f" stroke-width="0.85" fill="none" opacity="0.8"/>
<path d="M450.80 388.70V395.90M450.70 392.30H450.90 M453.00 388.70V395.90M452.90 392.30H453.10 M455.20 388.70V395.90M455.10 392.30H455.30 M457.30 388.70V395.90M457.20 392.30H457.40 M463.80 388.70V395.90M463.70 392.30H463.90 M465.30 388.70V395.90M465.20 392.30H465.40 M466.70 388.70V395.90M466.60 392.30H466.80 M468.10 388.70V395.90M468.00 392.30H468.20 M469.60 388.70V395.90M469.50 392.30H469.70 M471.00 388.70V395.90M470.90 392.30H471.10 M479.00 388.70V395.90M478.90 392.30H479.10 M482.60 388.70V395.90M482.50 392.30H482.70 M486.20 388.70V395.90M486.10 392.30H486.30 M499.90 388.70V395.90M499.80 392.30H500.00 M501.30 388.70V395.90M501.20 392.30H501.40 M503.50 388.70V395.90M503.40 392.30H503.60 M507.10 388.70V395.90M507.00 392.30H507.20" stroke="#c0001f" stroke-width="0.85" fill="none" opacity="0.8"/>
<path d="M312.3 307.5H318.7M312.8 311H319.2M313.5 313.9H319.7M314.8 322.5H320.8M315.2 324.9H321.2M315.5 327.7H321.5M315.8 330.6H322M316.2 333.5H322.4M316.8 337H323M317.3 339.9H323.5" stroke="#c0001f" stroke-width="1" opacity="0.75"/>
<polyline points="314.60,304.20 316.10,311.60 317.30,320.00 318.40,325.40 319.60,333.20 320.40,338.50 322.00,346.20 323.50,352.40 325.80,358.60 328.10,363.20 331.20,367.80 335.00,372.40 338.10,375.50 340.00,376.20 342.30,379.20 344.60,381.50 346.90,383.10 349.20,383.10 352.30,383.80 355.40,385.40 356.90,389.20 358.50,390.80 363.10,391.50 366.20,393.10 408.10,393.10 408.10,397.10 490.50,397.10" fill="none" stroke="#0f5088" stroke-width="2.0" stroke-linejoin="miter" stroke-linecap="butt"/>
<path d="M320.10 341.60V346.80M317.50 344.20H322.70 M321.50 349.00V354.20M318.90 351.60H324.10 M322.80 351.00V356.20M320.20 353.60H325.40 M325.50 359.10V364.30M322.90 361.70H328.10 M330.20 363.10V368.30M327.60 365.70H332.80 M331.60 365.10V370.30M329.00 367.70H334.20 M334.30 366.50V371.70M331.70 369.10H336.90 M336.30 370.50V375.70M333.70 373.10H338.90 M339.00 373.90V379.10M336.40 376.50H341.60 M340.30 375.20V380.40M337.70 377.80H342.90 M342.30 377.90V383.10M339.70 380.50H344.90 M347.70 380.50V385.70M345.10 383.10H350.30 M350.40 380.50V385.70M347.80 383.10H353.00 M352.50 381.20V386.40M349.90 383.80H355.10" stroke="#0f5088" stroke-width="1.0" fill="none" opacity="1.0"/>
<path d="M360.00 388.03V394.03M359.90 391.03H360.10 M362.30 388.38V394.38M362.20 391.38H362.40 M368.50 390.10V396.10M368.40 393.10H368.60 M370.80 390.10V396.10M370.70 393.10H370.90 M373.10 390.10V396.10M373.00 393.10H373.20 M375.40 390.10V396.10M375.30 393.10H375.50 M381.50 390.10V396.10M381.40 393.10H381.60 M383.80 390.10V396.10M383.70 393.10H383.90 M389.20 390.10V396.10M389.10 393.10H389.30 M392.30 390.10V396.10M392.20 393.10H392.40 M393.80 390.10V396.10M393.70 393.10H393.90 M410.00 394.10V400.10M409.90 397.10H410.10 M412.00 394.10V400.10M411.90 397.10H412.10 M414.00 394.10V400.10M413.90 397.10H414.10 M416.00 394.10V400.10M415.90 397.10H416.10 M419.00 394.10V400.10M418.90 397.10H419.10 M423.00 394.10V400.10M422.90 397.10H423.10 M428.00 394.10V400.10M427.90 397.10H428.10 M434.00 394.10V400.10M433.90 397.10H434.10 M440.00 394.10V400.10M439.90 397.10H440.10 M445.80 394.10V400.10M445.70 397.10H445.90 M446.50 394.10V400.10M446.40 397.10H446.60 M457.30 394.10V400.10M457.20 397.10H457.40 M470.30 394.10V400.10M470.20 397.10H470.40 M487.60 394.10V400.10M487.50 397.10H487.70 M490.50 394.10V400.10M490.40 397.10H490.60" stroke="#0f5088" stroke-width="1.0" fill="none" opacity="1.0"/>
<path d="M315 322.3H321" stroke="#0f5088" stroke-width="1" opacity="0.8"/>
<text x="401.9" y="374.4" class="lb" fill="#c0001f" stroke="#c0001f" textLength="90.8" lengthAdjust="spacingAndGlyphs">First CR/CRi, n=460</text>
<text x="387.1" y="416.9" class="lb" fill="#0f5088" stroke="#0f5088" textLength="105.6" lengthAdjust="spacingAndGlyphs">Second CR/CRi, n=120</text>
<rect x="0" y="0" width="520" height="519" fill="none" stroke="#000" stroke-width="2.9"/>
</svg></body></html>
